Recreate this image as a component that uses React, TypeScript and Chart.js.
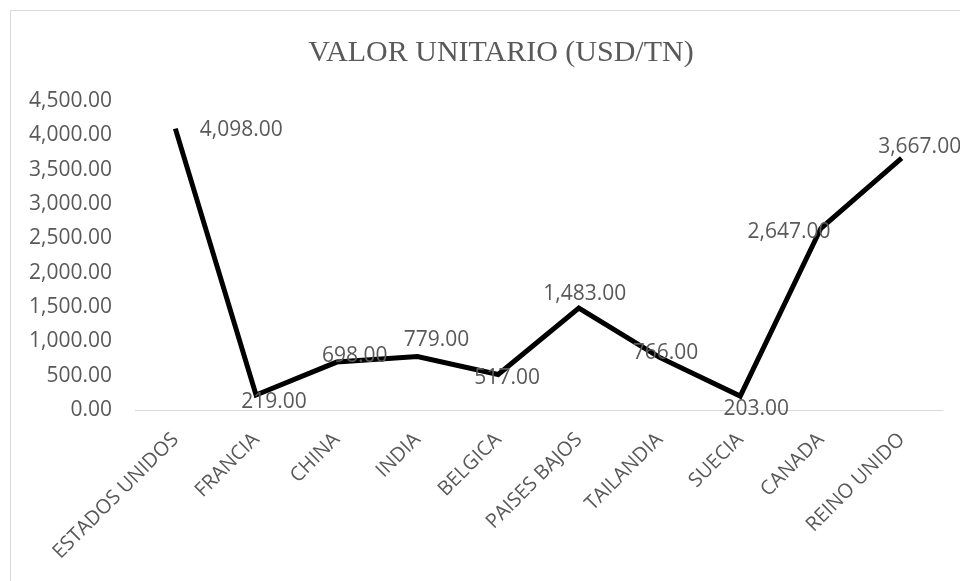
import React, { useEffect, useRef } from "react";
import { Chart, registerables } from "chart.js";

Chart.register(...registerables);

const TITLE = "VALOR UNITARIO (USD/TN)";
const CATEGORIES = [
  "ESTADOS UNIDOS",
  "FRANCIA",
  "CHINA",
  "INDIA",
  "BELGICA",
  "PAISES BAJOS",
  "TAILANDIA",
  "SUECIA",
  "CANADA",
  "REINO UNIDO",
];
const VALUES = [4098, 219, 698, 779, 517, 1483, 766, 203, 2647, 3667];
const Y_MIN = 0;
const Y_MAX = 4500;
const Y_STEP = 500;

// label offsets (dx, dy) from each point, in px
const LABEL_OFFSETS: [number, number][] = [
  [66, 1.5],
  [18, 7],
  [18, -6],
  [19, -16.5],
  [9, 3.5],
  [6, -14],
  [6, -4],
  [16, 13],
  [-32, 4],
  [18, -11],
];

const fmt = (v: number) =>
  v.toLocaleString("en-US", { minimumFractionDigits: 2, maximumFractionDigits: 2 });

const FONT = "'Open Sans', 'Noto Sans', sans-serif";
const GRAY = "#595959";

export default function App() {
  const ref = useRef<HTMLCanvasElement | null>(null);
  useEffect(() => {
    if (!ref.current) return;
    const labelPlugin = {
      id: "labelsAndTitle",
      beforeDraw(chart: any) {
        const ctx = chart.ctx;
        ctx.save();
        ctx.strokeStyle = "#d9d9d9";
        ctx.lineWidth = 1;
        ctx.strokeRect(10.5, 10.5, 1100, 1100);
        ctx.restore();
      },
      afterDatasetsDraw(chart: any) {
        const ctx = chart.ctx;
        const meta = chart.getDatasetMeta(0);
        ctx.save();
        ctx.fillStyle = GRAY;
        ctx.font = `21px ${FONT}`;
        ctx.textAlign = "center";
        ctx.textBaseline = "middle";
        meta.data.forEach((pt: any, i: number) => {
          const [dx, dy] = LABEL_OFFSETS[i];
          ctx.fillText(fmt(VALUES[i]), pt.x + dx, pt.y + dy);
        });
        ctx.font = "30px 'Liberation Serif', 'Times New Roman', serif";
        ctx.textBaseline = "alphabetic";
        ctx.fillText(TITLE, 501, 61);
        ctx.restore();
      },
    };
    const chart = new Chart(ref.current, {
      type: "line",
      data: {
        labels: CATEGORIES,
        datasets: [
          {
            data: VALUES,
            borderColor: "#000000",
            borderWidth: 5,
            pointRadius: 0,
            pointHoverRadius: 0,
            tension: 0,
            fill: false,
          },
        ],
      },
      options: {
        responsive: false,
        animation: false,
        events: [],
        layout: { padding: { left: 0, top: 101, right: 58, bottom: 0 } },
        plugins: {
          legend: { display: false },
          title: { display: false },
          tooltip: { enabled: false },
        },
        scales: {
          x: {
            offset: true,
            grid: { display: false, drawTicks: false },
            border: { display: true, color: "#d9d9d9", width: 1 },
            ticks: {
              autoSkip: false,
              maxRotation: 45,
              minRotation: 45,
              padding: 18,
              color: GRAY,
              font: { family: FONT, size: 20 },
            },
            afterFit: (s: any) => {
              s.height = 210;
            },
          },
          y: {
            min: Y_MIN,
            max: Y_MAX,
            grid: { display: false, drawTicks: false },
            border: { display: false },
            ticks: {
              stepSize: Y_STEP,
              padding: 23,
              color: GRAY,
              font: { family: FONT, size: 21 },
              callback: (v: any) => fmt(Number(v)),
            },
            afterFit: (s: any) => {
              s.width = 135;
            },
          },
        },
      },
      plugins: [labelPlugin],
    });
    return () => chart.destroy();
  }, []);

  return (
    <div
      style={{
        position: "absolute",
        left: 0,
        top: 0,
        width: 960,
        height: 581,
        overflow: "hidden",
        background: "#ffffff",
      }}
    >
      <canvas
        ref={ref}
        width={1000}
        height={620}
        style={{ position: "absolute", left: 0, top: 0, width: 1000, height: 620 }}
      />
    </div>
  );
}
